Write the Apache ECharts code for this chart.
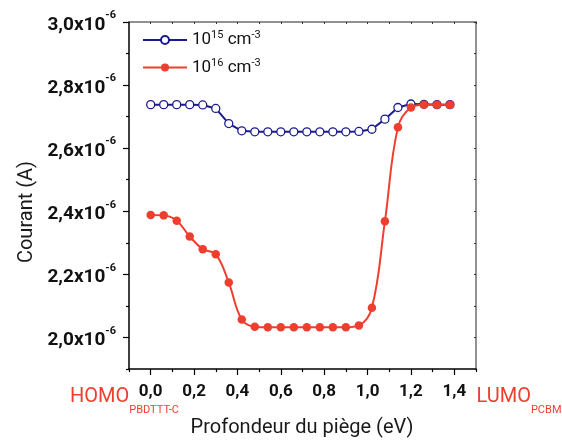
<!DOCTYPE html>
<html>
<head>
<meta charset="utf-8">
<script src="https://cdn.jsdelivr.net/npm/echarts@6/dist/echarts.min.js"></script>
<style>
html,body{margin:0;padding:0;background:#fff;}
#chart{width:562px;height:441px;}
</style>
</head>
<body>
<div id="chart"></div>
<script>
// Trap depth (eV)
const trapDepth = [0.00,0.06,0.12,0.18,0.24,0.30,0.36,0.42,0.48,0.54,0.60,0.66,0.72,0.78,0.84,0.90,0.96,1.02,1.08,1.14,1.20,1.26,1.32,1.38];
// Current (x1e-6 A)
const current1e15 = [2.738,2.738,2.738,2.738,2.737,2.726,2.678,2.655,2.652,2.652,2.652,2.652,2.652,2.652,2.652,2.652,2.653,2.660,2.692,2.729,2.740,2.739,2.738,2.738];
const current1e16 = [2.388,2.387,2.370,2.320,2.280,2.264,2.174,2.057,2.034,2.032,2.032,2.032,2.032,2.032,2.032,2.032,2.038,2.094,2.368,2.666,2.729,2.738,2.738,2.738];
const seriesNames = ['1e15','1e16'];
const legendLabels = {'1e15':'{n|10}{s|15}{n| cm}{s|-3}','1e16':'{n|10}{s|16}{n| cm}{s|-3}'};
// Tick values
const xMajorTicks = [0,0.2,0.4,0.6,0.8,1.0,1.2,1.4];
const xMinorTicks = [-0.1,0.1,0.3,0.5,0.7,0.9,1.1,1.3,1.5];
const yMajorTicks = [2.0,2.2,2.4,2.6,2.8,3.0];
const yMinorTicks = [1.9,2.1,2.3,2.5,2.7,2.9];

const blue = '#1b1b8e';
const red = '#ee3f2e';
const xMin = -0.1, xMax = 1.5, yMin = 1.9, yMax = 3.0;

const chart = echarts.init(document.getElementById('chart'), null, {renderer:'canvas'});
const fam = 'Roboto, "Liberation Sans", sans-serif';

const option = {
  animation: false,
  backgroundColor: '#fff',
  textStyle: {fontFamily: fam},
  grid: {left: 129, right: 86, top: 22, bottom: 72, containLabel: false},
  legend: {
    data: seriesNames,
    orient: 'vertical',
    left: 137, top: 25,
    itemWidth: 44, itemHeight: 10, itemGap: 9,
    formatter: n => legendLabels[n],
    textStyle: {
      color: '#111',
      rich: {
        n: {fontSize: 17, fontFamily: fam, color:'#111', lineHeight: 20},
        s: {fontSize: 11, fontFamily: fam, color:'#111', lineHeight: 11, verticalAlign: 'top'}
      }
    }
  },
  xAxis: [
    {
      type: 'value', position: 'bottom', min: xMin, max: xMax,
      axisLine: {show: true, onZero: false, lineStyle: {color: '#000', width: 1.5}},
      axisTick: {show: true, customValues: xMajorTicks, length: 6, lineStyle: {color:'#000', width: 1.2}},
      axisLabel: {show: true, customValues: xMajorTicks, margin: 14,
        formatter: v => v.toFixed(1).replace('.', ','),
        fontSize: 17, fontWeight: 'bold', color: '#111', fontFamily: fam},
      splitLine: {show: false}
    },
    {
      type: 'value', position: 'bottom', min: xMin, max: xMax,
      axisLine: {show: false, onZero: false},
      axisTick: {show: true, customValues: xMinorTicks, length: 3, lineStyle: {color:'#000', width: 1.2}},
      axisLabel: {show: false},
      splitLine: {show: false}
    },
    {
      type: 'value', position: 'top', min: xMin, max: xMax, interval: 0.1,
      axisLine: {show: true, onZero: false, lineStyle: {color: '#6e6e6e', width: 1.5}},
      axisTick: {show: true, inside: true, length: 2, lineStyle: {color:'#333', width: 1}},
      axisLabel: {show: false},
      splitLine: {show: false}
    }
  ],
  yAxis: [
    {
      type: 'value', position: 'left', min: yMin, max: yMax,
      axisLine: {show: true, onZero: false, lineStyle: {color: '#000', width: 1.5}},
      axisTick: {show: true, customValues: yMajorTicks, length: 6, lineStyle: {color:'#000', width: 1.2}},
      axisLabel: {show: true, customValues: yMajorTicks, margin: 13,
        formatter: v => '{b|' + v.toFixed(1).replace('.', ',') + 'x10}{s|-6}',
        rich: {
          b: {fontSize: 19, fontWeight: 'bold', color: '#111', fontFamily: fam, lineHeight: 24, padding:[6,0,0,0]},
          s: {fontSize: 11, fontWeight: 'bold', color: '#111', fontFamily: fam, lineHeight: 11, verticalAlign: 'top'}
        }},
      splitLine: {show: false}
    },
    {
      type: 'value', position: 'left', min: yMin, max: yMax,
      axisLine: {show: false, onZero: false},
      axisTick: {show: true, customValues: yMinorTicks, length: 3, lineStyle: {color:'#000', width: 1.2}},
      axisLabel: {show: false},
      splitLine: {show: false}
    },
    {
      type: 'value', position: 'right', min: yMin, max: yMax, interval: 0.1,
      axisLine: {show: true, onZero: false, lineStyle: {color: '#6e6e6e', width: 1.5}},
      axisTick: {show: true, inside: true, length: 2, lineStyle: {color:'#333', width: 1}},
      axisLabel: {show: false},
      splitLine: {show: false}
    }
  ],
  series: [
    {
      name: seriesNames[0], type: 'line', xAxisIndex: 0, yAxisIndex: 0,
      data: trapDepth.map((x, i) => [x, current1e15[i]]),
      symbol: 'circle', symbolSize: 8, showSymbol: true,
      lineStyle: {color: blue, width: 2},
      itemStyle: {color: '#fff', borderColor: blue, borderWidth: 1.3},
      z: 2
    },
    {
      name: seriesNames[1], type: 'line', xAxisIndex: 0, yAxisIndex: 0,
      data: trapDepth.map((x, i) => [x, current1e16[i]]),
      smooth: 0.4,
      symbol: 'circle', symbolSize: 8.5, showSymbol: true,
      lineStyle: {color: red, width: 2},
      itemStyle: {color: red, borderColor: red, borderWidth: 0},
      z: 3
    }
  ],
  graphic: [
    {type: 'text', x: 27, y: 212, rotation: Math.PI / 2,
      style: {text: 'Courant (A)', font: '20px ' + fam, fill: '#1a1a1a', align: 'center', verticalAlign: 'middle'}},
    {type: 'text', x: 302, y: 428,
      style: {text: 'Profondeur du piège (eV)', font: '20px ' + fam, fill: '#1a1a1a', align: 'center', verticalAlign: 'middle'}},
    {type: 'text', x: 70, y: 397,
      style: {text: '{m|HOMO}{s|PBDTTT-C}', align: 'left', verticalAlign: 'middle',
        rich: {
          m: {fontSize: 20, fontFamily: fam, fill: red, lineHeight: 37},
          s: {fontSize: 11, fontFamily: fam, fill: red, lineHeight: 11, verticalAlign: 'bottom'}
        }}},
    {type: 'text', x: 476.5, y: 397,
      style: {text: '{m|LUMO}{s|PCBM}', align: 'left', verticalAlign: 'middle',
        rich: {
          m: {fontSize: 20, fontFamily: fam, fill: red, lineHeight: 37},
          s: {fontSize: 11, fontFamily: fam, fill: red, lineHeight: 11, verticalAlign: 'bottom'}
        }}}
  ]
};
chart.setOption(option);
</script>
</body>
</html>
